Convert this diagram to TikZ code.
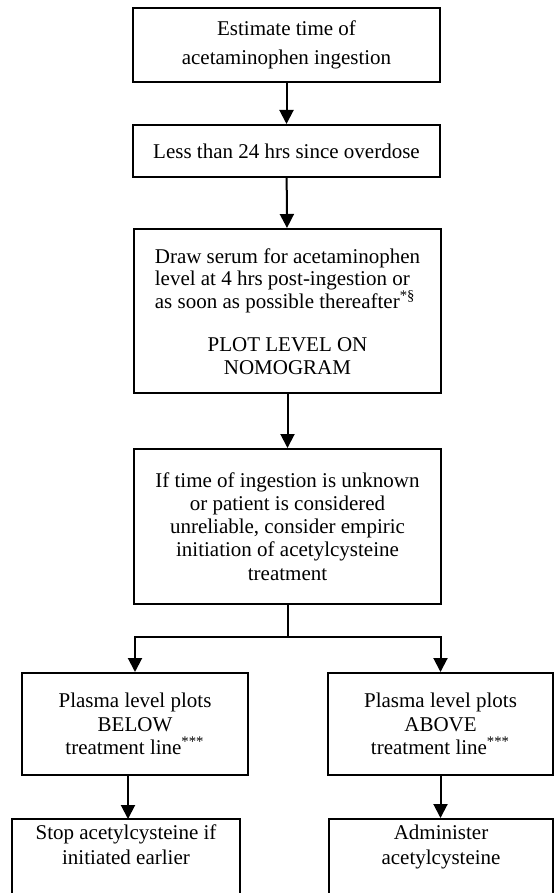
\documentclass[tikz,border=0pt]{standalone}
\usepackage{fontspec}
\setmainfont{Liberation Serif}
\usetikzlibrary{arrows.meta}

\tikzset{
  stepbox/.style={draw, line width=1pt, inner sep=0pt, align=center,
    font=\fontsize{10.5}{11.6}\selectfont},
  flow/.style={line width=1pt, -{Triangle[length=7pt,width=7pt]}}
}

\begin{document}
\begin{tikzpicture}[x=0.5pt,y=-0.5pt]
\useasboundingbox (0,0) rectangle (554,893);

\node[stepbox, minimum width=153.5pt, minimum height=37pt,
  font=\fontsize{10.5}{14.5}\selectfont] (est) at (286.5,45)
  {Estimate time of\\acetaminophen ingestion};
\node[stepbox, minimum width=153.5pt, minimum height=26pt] (less) at (286.5,151)
  {Less than 24 hrs since overdose};
\node[stepbox, minimum width=153.5pt, minimum height=82pt] (serum) at (287.5,311)
  {\begin{tabular}{@{}l@{}}Draw serum for acetaminophen\\[-0.6pt]
   level at 4 hrs post-ingestion or\\[-0.6pt]
   as soon as possible thereafter\textsuperscript{*§}\end{tabular}\\[10pt]
   PLOT LEVEL ON\\NOMOGRAM};
\node[stepbox, minimum width=153.5pt, minimum height=77.5pt] (unk) at (287.5,526.5)
  {If time of ingestion is unknown\\or patient is considered\\unreliable, consider empiric\\initiation of acetylcysteine\\treatment};
\node[stepbox, minimum width=113pt, minimum height=51pt] (below) at (135,724)
  {Plasma level plots\\BELOW\\treatment line\textsuperscript{***}};
\node[stepbox, minimum width=112.5pt, minimum height=51pt] (above) at (440.5,724)
  {Plasma level plots\\ABOVE\\treatment line\textsuperscript{***}};
\node[stepbox, minimum width=114pt, minimum height=44pt, anchor=north,
  font=\fontsize{10.5}{12.5}\selectfont] (stop) at (126,818)
  {\rule{0pt}{10pt}Stop acetylcysteine if\\initiated earlier\\[16pt]};
\node[stepbox, minimum width=112pt, minimum height=44pt, anchor=north,
  font=\fontsize{10.5}{12.5}\selectfont] (admin) at (441,818)
  {\rule{0pt}{10pt}Administer\\acetylcysteine\\[16pt]};

\coordinate (split) at (287.5,637);

\draw[flow] (est) -- (less);
\draw[flow] (less) -- (serum);
\draw[flow] (serum.south) -- (unk.north -| serum.south);
\draw[line width=1pt] (unk.south) -- (split);
\draw[flow] (split) -| (below.north);
\draw[flow] (split) -| (above.north);
\draw[flow] (below.south -| stop.north) ++(2,0) -- ++(0,43);
\draw[flow] (above.south) -- (admin.north -| above.south);
\end{tikzpicture}
\end{document}
